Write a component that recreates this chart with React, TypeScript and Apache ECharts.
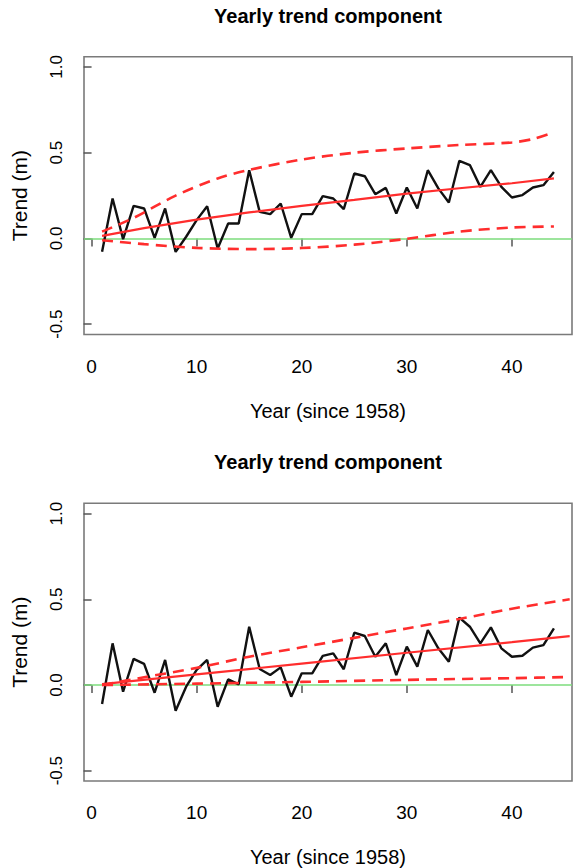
import React, { useEffect, useRef } from "react";
import * as echarts from "echarts";

const years = [1, 2, 3, 4, 5, 6, 7, 8, 9, 10, 11, 12, 13, 14, 15, 16, 17, 18, 19, 20, 21, 22, 23, 24, 25, 26, 27, 28, 29, 30, 31, 32, 33, 34, 35, 36, 37, 38, 39, 40, 41, 42, 43, 44];

const topObserved = [-0.078, 0.233, -0.004, 0.19, 0.175, 0.003, 0.175, -0.078, 0.01, 0.107, 0.188, -0.058, 0.087, 0.087, 0.398, 0.155, 0.142, 0.204, 0.004, 0.142, 0.142, 0.247, 0.233, 0.171, 0.379, 0.363, 0.258, 0.295, 0.146, 0.297, 0.175, 0.398, 0.292, 0.21, 0.453, 0.428, 0.301, 0.398, 0.301, 0.239, 0.253, 0.297, 0.311, 0.387];
const bottomObserved = [-0.111, 0.243, -0.039, 0.152, 0.123, -0.045, 0.146, -0.15, -0.01, 0.088, 0.146, -0.127, 0.033, 0.004, 0.34, 0.093, 0.058, 0.103, -0.068, 0.068, 0.068, 0.17, 0.185, 0.092, 0.305, 0.286, 0.165, 0.243, 0.058, 0.224, 0.107, 0.321, 0.214, 0.136, 0.393, 0.34, 0.243, 0.336, 0.214, 0.165, 0.171, 0.218, 0.233, 0.331];

// Trend fits read at sample years: [year, value]
const topTrend = [[1, 0.015], [5, 0.06], [10, 0.11], [15, 0.152], [20, 0.19], [25, 0.225], [30, 0.262], [35, 0.293], [40, 0.322], [44, 0.35]];
const topUpper = [[1, 0.04], [4, 0.12], [8, 0.25], [12, 0.35], [15, 0.4], [20, 0.46], [25, 0.5], [30, 0.525], [35, 0.545], [40, 0.56], [42, 0.58], [44, 0.62]];
const topLower = [[1, -0.01], [5, -0.033], [10, -0.055], [15, -0.062], [20, -0.056], [25, -0.036], [30, -0.002], [35, 0.04], [40, 0.064], [44, 0.07]];

const bottomTrend = [[1, 0.005], [10, 0.062], [20, 0.125], [30, 0.188], [40, 0.25], [45.5, 0.285]];
const bottomUpper = [[1, 0.0], [5, 0.045], [10, 0.1], [15, 0.165], [20, 0.22], [25, 0.275], [30, 0.33], [35, 0.385], [40, 0.445], [45.5, 0.5]];
const bottomLower = [[1, 0.0], [10, 0.008], [20, 0.018], [30, 0.03], [40, 0.04], [45.5, 0.047]];

const xTicks = [0, 10, 20, 30, 40];
const yTicks = [-0.5, 0.0, 0.5, 1.0];

const titleText = "Yearly trend component";
const xName = "Year (since 1958)";
const yName = "Trend (m)";

const FONT = "Liberation Sans, Arial, Helvetica, sans-serif";
const RED = "#ff2d2d";
const GREEN = "#7ddc7d";

export default function App() {
  const ref = useRef<HTMLDivElement>(null);

  useEffect(() => {
    if (!ref.current) return;
    const chart = echarts.init(ref.current, undefined, { renderer: "svg" });

    const gridTops = [56.7, 503.3];
    const gridH = 277.8;
    const grids = gridTops.map((t) => ({
      left: 84,
      top: t,
      width: 488,
      height: gridH,
      show: true,
      borderColor: "#7a7a7a",
      borderWidth: 1.6,
      backgroundColor: "transparent",
    }));

    const xAxes = [0, 1].map((i) => ({
      type: "value",
      gridIndex: i,
      min: -0.72,
      max: 45.72,
      splitLine: { show: false },
      axisLine: { show: false },
      axisTick: {
        show: true,
        length: 8,
        customValues: xTicks,
        lineStyle: { color: "#555", width: 1.5 },
      },
      axisLabel: {
        customValues: xTicks,
        margin: 22,
        fontSize: 19,
        fontFamily: FONT,
        color: "#000",
      },
      name: xName,
      nameLocation: "middle",
      nameGap: 66,
      nameTextStyle: { fontSize: 20, fontFamily: FONT, color: "#000" },
    }));

    const yAxes = [0, 1].map((i) => ({
      type: "value",
      gridIndex: i,
      min: -0.56,
      max: 1.06,
      splitLine: { show: false },
      axisLine: { show: false },
      axisTick: {
        show: true,
        length: 8,
        customValues: yTicks,
        lineStyle: { color: "#555", width: 1.5 },
      },
      axisLabel: {
        customValues: yTicks,
        rotate: 90,
        margin: 19,
        fontSize: 17,
        fontFamily: FONT,
        color: "#000",
        formatter: (v: number) => v.toFixed(1),
      },
      name: yName,
      nameLocation: "middle",
      nameRotate: 90,
      nameGap: 54,
      nameTextStyle: { fontSize: 21, fontFamily: FONT, color: "#000" },
    }));

    const pair = (vals: number[]) => years.map((y, i) => [y, vals[i]]);

    const makeSeries = (idx: number, obs: number[], trend: number[][], up: number[][], lo: number[][]) => [
      {
        type: "line",
        xAxisIndex: idx,
        yAxisIndex: idx,
        data: pair(obs),
        showSymbol: false,
        lineStyle: { color: "#111", width: 2.4 },
        z: 3,
        markLine: {
          silent: true,
          symbol: "none",
          label: { show: false },
          lineStyle: { color: GREEN, width: 1.6, type: "solid" },
          data: [{ yAxis: 0 }],
          z: 2,
        },
      },
      {
        type: "line",
        xAxisIndex: idx,
        yAxisIndex: idx,
        data: trend,
        showSymbol: false,
        lineStyle: { color: RED, width: 2.2 },
        z: 4,
      },
      {
        type: "line",
        xAxisIndex: idx,
        yAxisIndex: idx,
        data: up,
        smooth: 0.3,
        showSymbol: false,
        lineStyle: { color: RED, width: 2.6, type: [11, 7] },
        z: 4,
      },
      {
        type: "line",
        xAxisIndex: idx,
        yAxisIndex: idx,
        data: lo,
        smooth: 0.3,
        showSymbol: false,
        lineStyle: { color: RED, width: 2.6, type: [11, 7] },
        z: 4,
      },
    ];

    chart.setOption({
      animation: false,
      backgroundColor: "#fff",
      title: gridTops.map((t) => ({
        text: titleText,
        left: 328,
        top: t - 51,
        textAlign: "center",
        padding: 0,
        textStyle: { fontSize: 20, fontWeight: "bold", fontFamily: FONT, color: "#000" },
      })),
      grid: grids,
      xAxis: xAxes,
      yAxis: yAxes,
      series: [
        ...makeSeries(0, topObserved, topTrend, topUpper, topLower),
        ...makeSeries(1, bottomObserved, bottomTrend, bottomUpper, bottomLower),
      ],
    });

    return () => chart.dispose();
  }, []);

  return (
    <div
      ref={ref}
      style={{ position: "absolute", left: 0, top: 0, width: 574, height: 868, background: "#fff" }}
    />
  );
}
